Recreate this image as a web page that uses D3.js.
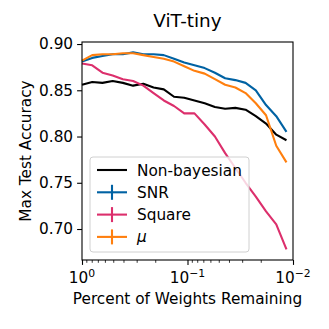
<!DOCTYPE html>
<html>
<head>
<meta charset="utf-8">
<script src="https://cdn.jsdelivr.net/npm/d3@7"></script>
<style>
	body { margin: 0; background: #fff; }
	svg { display: block; font-family: 'DejaVu Sans', sans-serif; }
</style>
</head>
<body>
<svg id="chart" width="329" height="329"></svg>
<script>
// pruning rounds: 20% of the remaining weights removed each round
const remaining = d3.range(21).map((k) => Math.pow(0.8, k));

const nonBayesian = [0.856, 0.859, 0.858, 0.860, 0.858, 0.855, 0.857, 0.853, 0.851, 0.843, 0.842,
	0.839, 0.836, 0.832, 0.830, 0.831, 0.829, 0.822, 0.814, 0.802, 0.796];
const snr = [0.881, 0.885, 0.887, 0.889, 0.889, 0.891, 0.889, 0.889, 0.888, 0.884, 0.880,
	0.877, 0.874, 0.869, 0.863, 0.861, 0.858, 0.850, 0.834, 0.822, 0.805];
const square = [0.879, 0.877, 0.869, 0.866, 0.862, 0.860, 0.855, 0.847, 0.839, 0.833, 0.825,
	0.825, 0.813, 0.800, 0.782, 0.766, 0.750, 0.735, 0.719, 0.705, 0.678];
const mu = [0.882, 0.888, 0.889, 0.889, 0.890, 0.890, 0.888, 0.886, 0.884, 0.881, 0.876,
	0.871, 0.868, 0.862, 0.856, 0.853, 0.847, 0.836, 0.823, 0.790, 0.772];

const series = [
	{ name: 'Non-bayesian', values: nonBayesian, color: '#000000', errorbar: false },
	{ name: 'SNR', values: snr, color: '#0062a3', errorbar: true },
	{ name: 'Square', values: square, color: '#dc2f6c', errorbar: true },
	{ name: 'μ', values: mu, color: '#ff7f0e', errorbar: true, italic: true },
];

const yTicks = [0.70, 0.75, 0.80, 0.85, 0.90];
const xTicks = [1, 0.1, 0.01];
const xTickExp = ['0', '−1', '−2'];

const fs = 15.3;
const margin = { top: 42, right: 36, bottom: 69, left: 82 };
const width = 329 - margin.left - margin.right;
const height = 329 - margin.top - margin.bottom;

const svg = d3.select('#chart');
const g = svg.append('g')
	.attr('transform', `translate(${ margin.left }, ${ margin.top })`);

const x = d3.scaleLog().domain([1, 0.01]).range([0, width]);
const y = d3.scaleLinear().domain([0.6665, 0.9022]).range([height, 0]);

// lines
const line = d3.line()
	.x((d, i) => x(remaining[i]))
	.y((d) => y(d));

series.forEach((s) => {
	g.append('path')
		.datum(s.values)
		.attr('fill', 'none')
		.attr('stroke', s.color)
		.attr('stroke-width', 2.1)
		.attr('stroke-linejoin', 'round')
		.attr('d', line);
});

// axes
const yAxis = g.append('g')
	.call(d3.axisLeft(y).tickValues(yTicks).tickFormat(d3.format('.2f')).tickSize(4.9).tickPadding(4));
const xAxis = g.append('g')
	.attr('transform', `translate(0, ${ height })`)
	.call(d3.axisBottom(x).tickValues(xTicks).tickFormat('').tickSize(4.9));

const minor = [];
[0.1, 0.01].forEach((base) => {
	for (let m = 2; m <= 9; m++) minor.push(base * m);
});
xAxis.selectAll('.minor')
	.data(minor)
	.enter()
	.append('line')
	.attr('class', 'minor')
	.attr('x1', (d) => x(d))
	.attr('x2', (d) => x(d))
	.attr('y1', 0)
	.attr('y2', 2.8)
	.attr('stroke', '#000')
	.attr('stroke-width', 0.8);

[yAxis, xAxis].forEach((ax) => {
	ax.select('.domain').remove();
	ax.selectAll('.tick line').attr('stroke-width', 1.1);
	ax.selectAll('text').attr('font-size', fs).attr('fill', '#000').attr('font-family', 'DejaVu Sans');
});

// x tick labels with superscript exponents
xTicks.forEach((t, i) => {
	const txt = g.append('text')
		.attr('x', x(t))
		.attr('y', height + 23)
		.attr('text-anchor', 'middle')
		.attr('font-size', fs)
		.attr('fill', '#000');
	txt.append('tspan').text('10');
	txt.append('tspan')
		.attr('font-size', 10.8)
		.attr('dy', -6.5)
		.text(xTickExp[i]);
});

// frame
g.append('rect')
	.attr('width', width)
	.attr('height', height)
	.attr('fill', 'none')
	.attr('stroke', '#000')
	.attr('stroke-width', 1.1);

// legend
const legend = g.append('g').attr('transform', 'translate(8, 115)');
legend.append('rect')
	.attr('width', 159)
	.attr('height', 95)
	.attr('rx', 3)
	.attr('fill', '#fff')
	.attr('fill-opacity', 0.8)
	.attr('stroke', '#d0d0d0')
	.attr('stroke-width', 1);

series.forEach((s, i) => {
	const row = legend.append('g').attr('transform', `translate(0, ${ 13 + i * 22.3 })`);
	row.append('line')
		.attr('x1', 7).attr('x2', 37)
		.attr('stroke', s.color)
		.attr('stroke-width', 2.1);
	if (s.errorbar) {
		row.append('line')
			.attr('x1', 22).attr('x2', 22)
			.attr('y1', -7.5).attr('y2', 7.5)
			.attr('stroke', s.color)
			.attr('stroke-width', 2.1);
	}
	row.append('text')
		.attr('x', 47)
		.attr('y', 5.5)
		.attr('font-size', fs)
		.attr('font-style', s.italic ? 'italic' : 'normal')
		.text(s.name);
});

// labels
svg.append('text')
	.attr('x', margin.left + width / 2)
	.attr('y', 27)
	.attr('text-anchor', 'middle')
	.attr('font-size', 18.4)
	.text('ViT-tiny');

svg.append('text')
	.attr('x', margin.left + width / 2)
	.attr('y', 304)
	.attr('text-anchor', 'middle')
	.attr('font-size', fs)
	.text('Percent of Weights Remaining');

svg.append('text')
	.attr('transform', `translate(31, ${ margin.top + height / 2 }) rotate(-90)`)
	.attr('text-anchor', 'middle')
	.attr('font-size', fs)
	.text('Max Test Accuracy');
</script>
</body>
</html>
